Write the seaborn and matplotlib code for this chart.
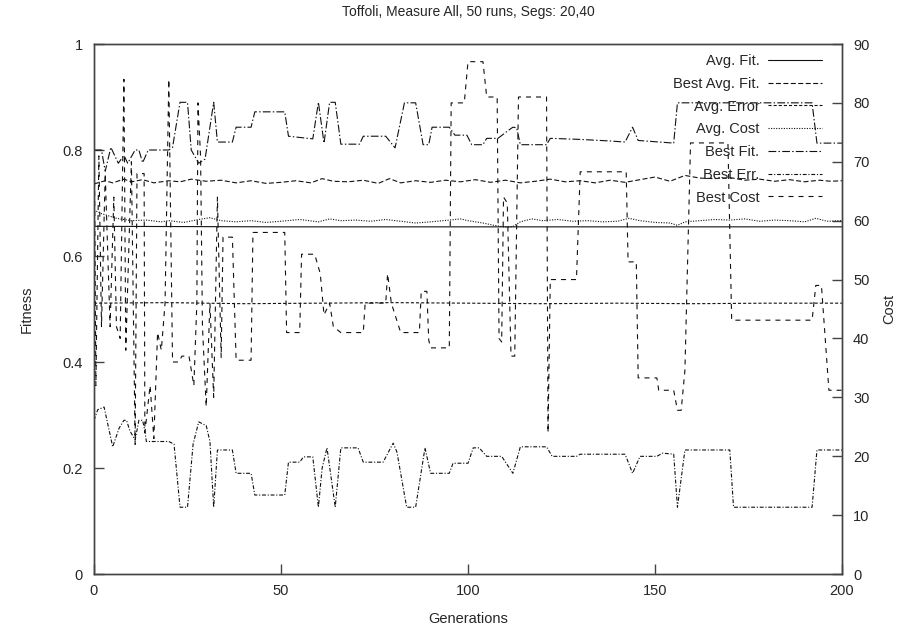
import pandas as pd
import matplotlib
matplotlib.use('Agg')
import matplotlib.pyplot as plt
import seaborn as sns

# ---- data (generation, value) ----
avg_fit_gen = [0, 50, 100, 150, 200]
avg_fit = [0.656, 0.655, 0.655, 0.655, 0.655]

best_avg_fit_gen = [0, 3, 5, 8, 10, 13, 16, 20, 23, 26, 30, 34, 38, 42, 46, 50, 54, 58, 61, 64,
                    68, 72, 76, 79, 82, 86, 90, 94, 98, 102, 106, 110, 114, 118, 122, 126, 130,
                    134, 138, 142, 146, 150, 154, 158, 162, 166, 170, 174, 178, 182, 186, 190,
                    194, 197, 200]
best_avg_fit = [0.736, 0.742, 0.738, 0.745, 0.740, 0.744, 0.738, 0.742, 0.740, 0.745, 0.741,
                0.743, 0.738, 0.742, 0.737, 0.739, 0.742, 0.738, 0.746, 0.741, 0.740, 0.743,
                0.737, 0.746, 0.738, 0.742, 0.739, 0.743, 0.740, 0.744, 0.739, 0.743, 0.738,
                0.741, 0.745, 0.740, 0.742, 0.738, 0.743, 0.739, 0.744, 0.749, 0.741, 0.752,
                0.747, 0.746, 0.748, 0.743, 0.745, 0.741, 0.744, 0.740, 0.743, 0.741, 0.742]

avg_err_gen = [0, 20, 40, 60, 80, 100, 120, 140, 160, 180, 200]
avg_err = [0.511, 0.512, 0.510, 0.511, 0.512, 0.511, 0.510, 0.511, 0.510, 0.511, 0.511]

avg_cost_gen = [0, 2, 4, 6, 8, 10, 14, 18, 20, 24, 28, 31, 34, 38, 42, 46, 50, 55, 60, 63, 66,
                70, 74, 78, 82, 86, 90, 95, 98, 100, 104, 107, 110, 112, 114, 117, 120, 124,
                128, 132, 136, 140, 143, 146, 150, 154, 156, 158, 162, 166, 170, 174, 178,
                182, 186, 190, 193, 196, 200]
avg_cost = [61.8, 61.2, 60.8, 60.4, 60.2, 60.0, 60.1, 59.8, 60.0, 59.7, 60.2, 60.5, 60.0, 59.8,
            60.0, 59.7, 59.9, 60.2, 59.8, 60.3, 60.0, 60.1, 59.9, 60.2, 59.9, 59.6, 59.8, 60.1,
            60.3, 60.0, 59.6, 59.2, 58.9, 59.0, 59.8, 60.3, 60.0, 60.2, 59.9, 60.0, 59.8, 59.9,
            60.4, 60.0, 59.7, 59.6, 59.2, 59.8, 60.0, 60.2, 60.1, 60.3, 59.9, 60.1, 60.0, 59.8,
            60.4, 59.9, 60.0]

best_fit_gen = [0, 2, 3, 4.5, 6.5, 8, 9, 11, 12, 13, 14.5, 20, 21, 23, 25, 26, 28, 29.7, 32, 33,
                37, 38, 42, 43, 51, 52, 58.5, 60, 61.5, 63, 64.5, 66, 71, 72, 78, 80.5, 83, 86,
                88, 89.5, 90.4, 95, 96.5, 99.7, 101, 104, 105, 108, 111, 112, 113, 114, 121, 122,
                130, 138, 142, 144, 145.5, 155, 156, 192, 193.3, 200]
best_fit = [0.80, 0.80, 0.76, 0.805, 0.775, 0.79, 0.775, 0.80, 0.80, 0.776, 0.80, 0.80, 0.805,
            0.89, 0.89, 0.80, 0.775, 0.783, 0.89, 0.815, 0.815, 0.843, 0.843, 0.872, 0.872,
            0.826, 0.821, 0.89, 0.813, 0.89, 0.89, 0.811, 0.811, 0.826, 0.826, 0.804, 0.889,
            0.889, 0.81, 0.81, 0.843, 0.843, 0.828, 0.828, 0.81, 0.81, 0.822, 0.822, 0.838,
            0.843, 0.842, 0.81, 0.81, 0.822, 0.82, 0.817, 0.815, 0.843, 0.818, 0.813, 0.889,
            0.889, 0.813, 0.813]

best_err_gen = [0, 1, 2.7, 5, 6.7, 8, 8.7, 9.6, 11, 12, 13, 13.6, 14, 20, 21.4, 23, 25, 26.5, 28,
                30, 31, 32, 33, 37, 38, 42, 43, 51, 52, 55, 56, 58.5, 60, 61, 62.3, 64.5, 66,
                70.6, 72, 77.3, 80, 81, 83.6, 86, 88.5, 90, 95, 96, 100, 101.4, 103, 105, 109,
                112, 114, 121, 122.5, 129, 130, 142, 144, 146, 150.5, 152, 155, 156, 158, 170,
                171, 192, 193.3, 200]
best_err = [0.29, 0.31, 0.315, 0.24, 0.275, 0.29, 0.29, 0.27, 0.253, 0.29, 0.29, 0.27, 0.25,
            0.25, 0.245, 0.126, 0.126, 0.245, 0.287, 0.28, 0.25, 0.126, 0.234, 0.234, 0.19,
            0.19, 0.149, 0.149, 0.211, 0.211, 0.221, 0.221, 0.126, 0.20, 0.238, 0.126, 0.238,
            0.238, 0.211, 0.211, 0.247, 0.23, 0.126, 0.126, 0.238, 0.19, 0.19, 0.209, 0.209,
            0.238, 0.238, 0.222, 0.222, 0.19, 0.24, 0.24, 0.222, 0.222, 0.226, 0.226, 0.19,
            0.222, 0.222, 0.228, 0.226, 0.126, 0.234, 0.234, 0.126, 0.126, 0.234, 0.234]

best_cost_gen = [0, 0.5, 1.3, 2, 3, 4.3, 5.3, 6, 7, 8, 8.5, 10, 11, 11.5, 13.4, 13.6, 15, 16,
                 16.5, 17, 18, 19, 20, 21, 22.7, 23.5, 25.4, 26.7, 27.5, 27.8, 28.5, 29, 30, 31,
                 32, 33, 34, 34.5, 37, 38, 42, 42.5, 51, 51.5, 55, 55.5, 59, 60.5, 61.5, 63, 64,
                 66, 72, 72.5, 78, 78.5, 79.5, 81, 82, 87, 87.5, 89, 89.5, 90, 95, 95.5, 99, 100,
                 104, 105, 107.8, 108.3, 109, 109.5, 110.5, 111.5, 112.5, 113.5, 121, 121.4, 122,
                 129, 130, 142.3, 142.8, 145, 145.5, 150.5, 151, 155, 156, 157, 158, 159.5, 169.5,
                 170.5, 192, 193, 194.5, 196.5, 200]
best_cost = [82, 32, 71, 42, 68, 42, 64, 42, 40, 84, 38, 70, 22, 68, 68, 24, 32, 23, 32, 41, 38,
             46, 84, 36, 36, 37, 37, 32, 46, 80, 70.8, 42, 28.4, 46, 30, 64, 36.8, 57.2, 57.2,
             36.3, 36.3, 58, 58, 41, 41, 54.3, 54.3, 51, 44, 46, 42, 41, 41, 46, 46, 51, 46, 43,
             41, 41, 48, 48, 39.7, 38.4, 38.4, 80, 80, 87, 87, 81, 81, 40, 39.4, 64, 63, 37, 37,
             81, 81, 24, 50, 50, 68.3, 68.3, 53, 53, 33.3, 33.3, 31.2, 31.2, 27.8, 27.8, 34.6,
             73.2, 73.2, 43.1, 43.1, 49, 49, 31.2, 31.2]

labels = ['Avg. Fit.', 'Best Avg. Fit.', 'Avg. Error', 'Avg. Cost', 'Best Fit.', 'Best Err.', 'Best Cost']

sns.set_style('ticks')
plt.rcParams['font.family'] = ['Liberation Sans', 'DejaVu Sans']
plt.rcParams['font.size'] = 9.5

fig = plt.figure(figsize=(8.99, 6.29), dpi=100)
ax = fig.add_axes([94 / 899, 1 - 574 / 629, 748 / 899, 530 / 629])
ax2 = ax.twinx()

ink = '#111111'
styles = {
	'Avg. Fit.': '-',
	'Best Avg. Fit.': (0, (4.5, 2.2)),
	'Avg. Error': (0, (2.8, 1.8)),
	'Avg. Cost': (0, (1, 1.3)),
	'Best Fit.': (0, (7, 2, 1.3, 2)),
	'Best Err.': (0, (3.5, 1.6, 1, 1.6)),
	'Best Cost': (0, (4.5, 4.5)),
}
series = [
	('Avg. Fit.', avg_fit_gen, avg_fit, ax),
	('Best Avg. Fit.', best_avg_fit_gen, best_avg_fit, ax),
	('Avg. Error', avg_err_gen, avg_err, ax),
	('Avg. Cost', avg_cost_gen, avg_cost, ax2),
	('Best Fit.', best_fit_gen, best_fit, ax),
	('Best Err.', best_err_gen, best_err, ax),
	('Best Cost', best_cost_gen, best_cost, ax2),
]

handles = {}
for name, xs, ys, a in series:
	df = pd.DataFrame({'gen': xs, 'val': ys})
	sns.lineplot(data=df, x='gen', y='val', ax=a, estimator=None, sort=False,
	             color=ink, lw=0.8, linestyle=styles[name], label=name, legend=False)
	handles[name] = a.get_lines()[-1]

ax.set_xlim(0, 200)
ax.set_ylim(0, 1)
ax2.set_ylim(0, 90)
ax.set_xticks([0, 50, 100, 150, 200])
ax.set_yticks([0, 0.2, 0.4, 0.6, 0.8, 1])
ax.set_yticklabels(['0', '0.2', '0.4', '0.6', '0.8', '1'])
ax2.set_yticks(range(0, 91, 10))

for a in (ax, ax2):
	for s in a.spines.values():
		s.set_color('#444444')
		s.set_linewidth(1.0)
ax.tick_params(axis='both', direction='in', length=7, width=1, color='#444444', labelsize=10.5,
               top=False, right=False)
ax.tick_params(axis='x', pad=7)
ax.tick_params(axis='y', pad=8)
ax2.tick_params(axis='y', direction='in', length=7, width=1, color='#444444', labelsize=10.5, pad=8)

ax.set_xlabel('Generations', fontsize=10.5, labelpad=10)
ax.set_ylabel('Fitness', fontsize=10.5, labelpad=21)
ax2.set_ylabel('Cost', fontsize=10.5, labelpad=9)
ax.set_title('Toffoli, Measure All, 50 runs, Segs: 20,40', fontsize=10, pad=20)

ax2.legend([handles[n] for n in labels], labels, loc='upper right', markerfirst=False,
           frameon=False, fontsize=10.5, handlelength=3.7, handletextpad=0.6,
           labelspacing=0.6, borderpad=0, borderaxespad=0,
           bbox_to_anchor=(822 / 899, 1 - 54 / 629), bbox_transform=fig.transFigure)

plt.savefig('out.png', dpi=100)
